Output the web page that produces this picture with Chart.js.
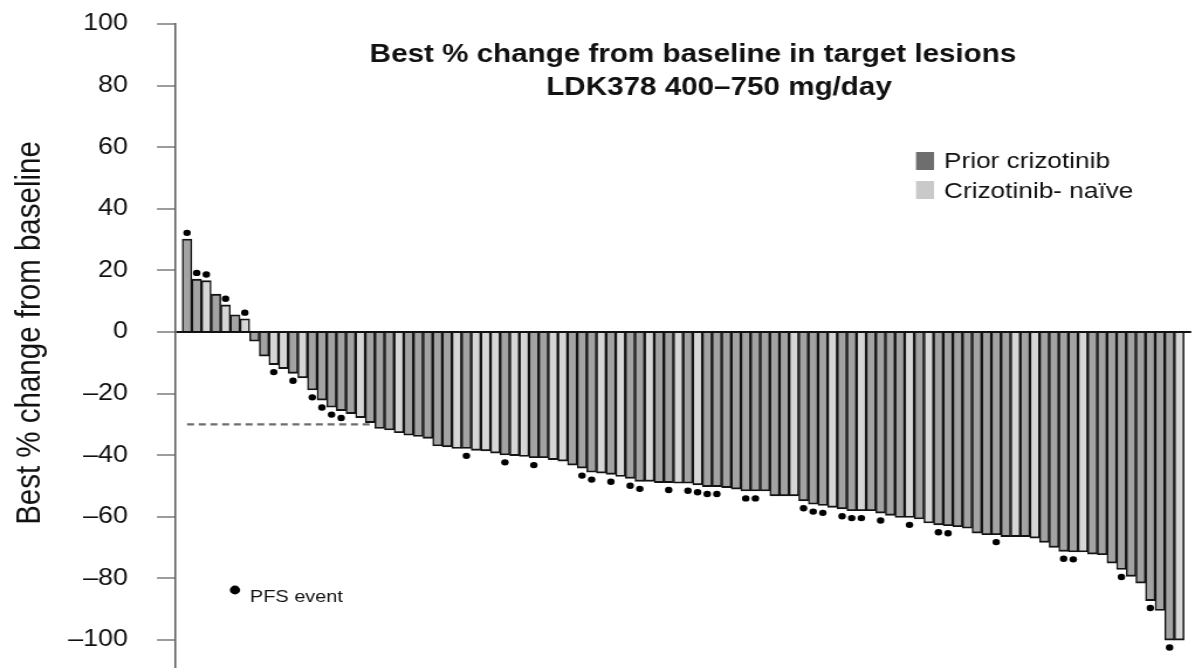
<!DOCTYPE html>
<html><head><meta charset="utf-8">
<script src="https://cdn.jsdelivr.net/npm/chart.js@4.4.1/dist/chart.umd.min.js"></script>
<style>
html,body{margin:0;padding:0;background:#fff;overflow:hidden;width:1195px;height:671px;}
#wrap{position:absolute;left:0;top:0;height:671px;transform-origin:0 0;}
canvas{display:block;}
</style></head><body>
<div id="wrap"><canvas id="c"></canvas></div>
<script>
// ---------------- data ----------------
const bestChange = [
  30.2, 17.2, 16.7, 12.3, 8.8, 5.6, 4.3, -3.0, -7.8, -10.6,
  -11.9, -13.4, -14.9, -18.8, -22.1, -24.4, -25.5, -26.5, -27.8, -29.4,
  -31.3, -31.8, -32.7, -33.5, -33.9, -34.5, -37.0, -37.3, -37.8, -37.8,
  -38.4, -38.6, -39.3, -39.9, -40.1, -40.4, -40.8, -40.8, -41.4, -41.9,
  -43.2, -44.2, -45.5, -45.8, -46.2, -46.9, -47.5, -48.5, -48.5, -48.9,
  -48.9, -49.1, -49.1, -49.6, -50.2, -50.2, -50.5, -51.0, -51.6, -51.6,
  -51.6, -53.2, -53.2, -53.2, -54.8, -55.9, -56.3, -56.9, -57.4, -58.0,
  -58.0, -58.0, -58.8, -59.5, -60.2, -60.2, -60.7, -62.0, -62.6, -62.9,
  -63.2, -63.7, -65.3, -65.8, -65.8, -66.4, -66.4, -66.4, -66.9, -68.3,
  -69.9, -71.2, -71.4, -71.4, -72.1, -72.3, -75.0, -77.1, -79.3, -81.5,
  -87.2, -90.4, -100, -100
];
// P = prior crizotinib, N = crizotinib-naive
const cohort = [
  'P','P','N','P','N','P','N','P','P','N',
  'N','P','N','P','P','P','P','P','N','P',
  'P','P','N','P','P','P','P','P','N','P',
  'N','N','N','P','N','N','P','P','N','N',
  'P','P','P','N','P','N','P','P','N','P',
  'P','N','P','N','P','P','P','P','P','P',
  'P','P','P','N','P','P','P','N','P','P',
  'N','P','P','P','P','N','P','N','P','P',
  'P','P','P','P','P','P','N','P','N','P',
  'P','P','P','N','P','P','P','P','P','P',
  'P','P','P','N'
];
// 1 = PFS event
const pfsEvent = [
  1,1,1,0,1,0,1,0,0,1,
  0,1,0,1,1,1,1,0,0,0,
  0,0,0,0,0,0,0,0,0,1,
  0,0,0,1,0,0,1,0,0,0,
  0,1,1,0,1,0,1,1,0,0,
  1,0,1,1,1,1,0,0,1,1,
  0,0,0,0,1,1,1,0,1,1,
  1,0,1,0,0,1,0,0,1,1,
  0,0,0,0,1,0,0,0,0,0,
  0,1,1,0,0,0,0,1,0,0,
  1,0,1,0
];
const yTicks = [100, 80, 60, 40, 20, 0, -20, -40, -60, -80, -100];
const titleLines = ['Best % change from baseline in target lesions', 'LDK378 400\u2013750 mg/day'];
const legendLabels = ['Prior crizotinib', 'Crizotinib- na\u00efve'];
const pfsLabel = 'PFS event';
const yTitle = 'Best % change from baseline';
const prThreshold = -30;

// ---------------- layout ----------------
const OUT_W = 1195, OUT_H = 671;
const INNER_W = 1021;
const SX = OUT_W / INNER_W;           // horizontal stretch of the original picture
const X = o => o / SX;                // outer px -> inner px
const FONT = '"Liberation Sans", Arial, Helvetica, sans-serif';
const colors = { P: '#a3a3a3', N: '#d6d6d6' };
const legendColors = ['#6e6e6e', '#c9c9c9'];

const wrap = document.getElementById('wrap');
wrap.style.width = INNER_W + 'px';
wrap.style.transform = 'scaleX(' + SX + ')';
const canvas = document.getElementById('c');
canvas.width = INNER_W; canvas.height = OUT_H;
canvas.style.width = INNER_W + 'px'; canvas.style.height = OUT_H + 'px';

const barData = bestChange.map((v, i) => ({ x: i, y: v }));
const barColors = cohort.map(c => colors[c]);
const dotData = bestChange
  .map((v, i) => pfsEvent[i] ? { x: i, y: v >= 0 ? v + 2.0 : v - 2.4 } : null)
  .filter(d => d);
const firstBelow = bestChange.findIndex(v => v <= prThreshold);
const thresholdData = [{ x: 0, y: prThreshold }, { x: firstBelow - 1, y: prThreshold }];

const overlay = {
  id: 'overlay',
  afterDraw(chart) {
    const c = chart.ctx;
    c.save();
    c.fillStyle = '#111';
    c.textBaseline = 'middle';
    // title
    c.textAlign = 'center';
    c.font = 'bold 25.3px ' + FONT;
    c.fillText(titleLines[0], X(693), 55);
    c.fillText(titleLines[1], X(719), 88);
    // legend
    c.textAlign = 'left';
    c.font = '22.4px ' + FONT;
    const sq = [[152, 162], [181, 192]];
    legendLabels.forEach((t, i) => {
      c.fillStyle = legendColors[i];
      c.fillRect(X(916), sq[i][0], X(18), 18);
      c.fillStyle = '#111';
      c.fillText(t, X(944), sq[i][1]);
    });
    // PFS event key
    c.beginPath();
    c.arc(X(235), 590, 4.4, 0, Math.PI * 2);
    c.fillStyle = '#000';
    c.fill();
    c.fillStyle = '#111';
    c.font = '17px ' + FONT;
    c.fillText(pfsLabel, X(250), 597);
    // y axis title
    c.translate(X(30), 333);
    c.rotate(-Math.PI / 2);
    c.textAlign = 'center';
    c.font = '29.5px ' + FONT;
    c.fillText(yTitle, 0, 0);
    c.restore();
  }
};

new Chart(canvas, {
  data: {
    datasets: [
      { type: 'scatter', label: 'PFS event', data: dotData, pointRadius: 3.2, pointHoverRadius: 3.2,
        pointBackgroundColor: '#000', pointBorderWidth: 0, order: 1 },
      { type: 'bar', label: 'Best % change', data: barData, backgroundColor: barColors,
        borderColor: '#141414', borderWidth: { left: 1.5, right: 1.5, top: 1.9, bottom: 1.9 },
        barPercentage: 1, categoryPercentage: 1, order: 2 },
      { type: 'line', label: 'PR threshold', data: thresholdData, borderColor: '#6e6e6e',
        borderWidth: 2.2, borderDash: [6, 4], pointRadius: 0, fill: false, order: 3 }
    ]
  },
  options: {
    responsive: false, animation: false, devicePixelRatio: 1,
    layout: { padding: { top: 24, left: 0, right: 0, bottom: 0 } },
    plugins: { legend: { display: false }, tooltip: { enabled: false }, title: { display: false } },
    scales: {
      x: { type: 'linear', min: -1.25, max: 104.25, offset: false, display: false,
           grid: { offset: false } },
      y: {
        min: -109, max: 100,
        afterBuildTicks: s => { s.ticks = yTicks.slice().reverse().map(v => ({ value: v })); },
        afterFit: s => { s.width = X(175); s.paddingTop = 0; s.paddingBottom = 0; },
        border: { display: true, color: '#555', width: 1.5 },
        grid: {
          drawOnChartArea: true,
          color: c => (c.tick && c.tick.value === 0) ? '#111' : 'rgba(0,0,0,0)',
          lineWidth: c => (c.tick && c.tick.value === 0) ? 2 : 0,
          tickColor: '#666', tickLength: X(18), tickWidth: 1.3
        },
        ticks: {
          padding: X(29), color: '#111',
          font: { family: FONT, size: 23 },
          callback: v => v < 0 ? '\u2013' + Math.abs(v) : String(v)
        },
        title: { display: false }
      }
    }
  },
  plugins: [overlay]
});
</script>
</body></html>
